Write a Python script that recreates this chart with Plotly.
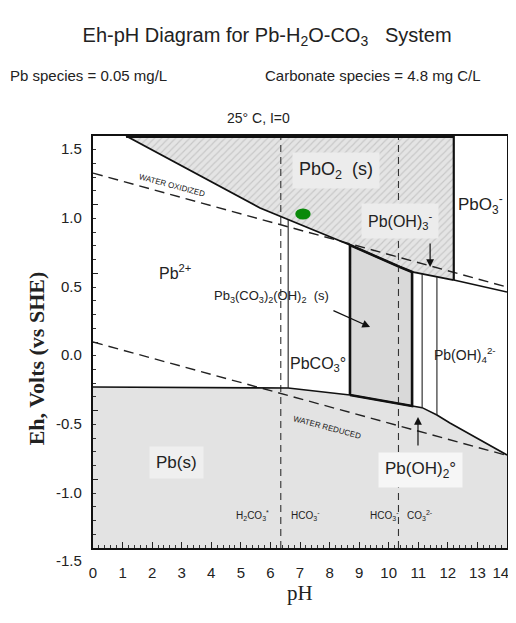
import plotly.graph_objects as go

# ---------------- data ----------------
# upper boundary of PbO2(s) / PbO3- (oxidised solids)
ox_ph = [1.12, 5.65, 6.39, 7.44, 8.69, 10.38, 10.79, 12.2]
ox_eh = [1.5, 0.976, 0.91, 0.815, 0.706, 0.546, 0.51, 0.451]
# Pb(OH)3- / PbO3- boundary continuing to pH 14
ox2_ph = [12.2, 14.0]
ox2_eh = [0.451, 0.364]
# upper boundary of Pb(s)
red_ph = [0.0, 6.6, 8.69, 10.79, 11.13, 11.63, 12.07, 14.0]
red_eh = [-0.328, -0.335, -0.386, -0.466, -0.478, -0.532, -0.59, -0.823]
# Pb3(CO3)2(OH)2(s) field
hc_ph = [8.69, 8.69, 10.38, 10.79, 10.79, 8.69]
hc_eh = [-0.386, 0.706, 0.546, 0.51, -0.466, -0.386]
# thin vertical boundaries (pH, top Eh, bottom Eh)
vb_ph = [6.6, 11.13, 11.63]
vb_top = [0.89, 0.496, 0.475]
vb_bot = [-0.335, -0.478, -0.532]
# PbO2 / PbO3- vertical boundary
pbo3_ph = [12.2, 12.2]
pbo3_eh = [1.5, 0.451]
# carbonate pKa dashed lines
pka_ph = [6.35, 10.33]
# water stability lines
wox_ph = [0.0, 14.0]
wox_eh = [1.23, 0.40]
wred_ph = [0.0, 14.0]
wred_eh = [0.0, -0.826]
# green sample point
dot_ph = [7.1]
dot_eh = [0.932]

x_ticks = list(range(0, 15))
# last label padded so it stays fully inside the page edge
x_tick_text = [str(v) for v in range(0, 14)] + ["14\u00a0\u00a0\u00a0"]
y_ticks = [1.5, 1.0, 0.5, 0.0, -0.5, -1.0, -1.5]
y_tick_text = ["1.5", "1.0", "0.5", "0.0", "-0.5", "-1.0", "-1.5"]

# species labels: (text, pH, Eh, size, background)
labels = [
    ("PbO<sub>2</sub>  (s)", 8.22, 1.252, 18, "#ececec"),
    ("Pb(OH)<sub>3</sub><sup>-</sup>", 10.38, 0.881, 16, "#ececec"),
    ("PbO<sub>3</sub><sup>-</sup>", 13.09, 0.998, 17, None),
    ("Pb<sup>2+</sup>", 2.77, 0.51, 16, None),
    ("Pb<sub>3</sub>(CO<sub>3</sub>)<sub>2</sub>(OH)<sub>2</sub>  (s)", 6.05, 0.33, 13, None),
    ("PbCO<sub>3</sub>°", 7.61, -0.167, 16, None),
    ("Pb(OH)<sub>4</sub><sup>2-</sup>", 12.58, -0.095, 14, None),
    ("Pb(s)", 2.81, -0.881, 17, "#efefef"),
    ("Pb(OH)<sub>2</sub>°", 11.06, -0.932, 17, "#f6f6f6"),
]
small_labels = [
    ("H<sub>2</sub>CO<sub>3</sub><sup>*</sup>", 5.41, -1.265),
    ("HCO<sub>3</sub><sup>-</sup>", 7.17, -1.265),
    ("HCO<sub>3</sub><sup>-</sup>", 9.87, -1.265),
    ("CO<sub>3</sub><sup>2-</sup>", 11.06, -1.265),
]
water_labels = [("WATER OXIDIZED", 2.67, 1.143), ("WATER REDUCED", 7.91, -0.626)]
# arrows: (tail pH, tail Eh, head pH, head Eh)
arrows = [
    (8.08, 0.233, 9.37, 0.109),
    (11.4, 0.728, 11.4, 0.546),
    (10.99, -0.765, 10.99, -0.546),
]

SANS = "Liberation Sans Narrow, Arial Narrow, Liberation Sans, Arial, sans-serif"
SERIF = "Liberation Serif, Times New Roman, serif"
INK = "#222222"

fig = go.Figure()

# Pb(s) field
fig.add_trace(go.Scatter(
    x=[red_ph[0]] + red_ph + [red_ph[-1]],
    y=[-1.5] + red_eh + [-1.5],
    fill="toself", fillcolor="#e3e3e3", mode="lines",
    line=dict(width=0), hoverinfo="skip", showlegend=False))

# PbO2 field (hatched)
fig.add_trace(go.Scatter(
    x=ox_ph + [12.2, ox_ph[0]],
    y=ox_eh + [1.5, 1.5],
    fill="toself", mode="lines", line=dict(width=0),
    fillpattern=dict(shape="/", bgcolor="#e4e4e4", fgcolor="#a9a9a9",
                     size=5, solidity=0.22),
    hoverinfo="skip", showlegend=False))

# Pb3(CO3)2(OH)2 field
fig.add_trace(go.Scatter(
    x=hc_ph, y=hc_eh, fill="toself", fillcolor="#d9d9d9", mode="lines",
    line=dict(color="#111111", width=2.6), hoverinfo="skip", showlegend=False))

# water lines
for xs, ys in [(wox_ph, wox_eh), (wred_ph, wred_eh)]:
    fig.add_trace(go.Scatter(x=xs, y=ys, mode="lines",
                             line=dict(color="#222222", width=1.4, dash="10px,6px"),
                             hoverinfo="skip", showlegend=False))

# pKa dashed verticals
for p in pka_ph:
    fig.add_trace(go.Scatter(x=[p, p], y=[-1.5, 1.5], mode="lines",
                             line=dict(color="#333333", width=1.1, dash="7px,5px"),
                             hoverinfo="skip", showlegend=False))

# boundaries
fig.add_trace(go.Scatter(x=ox_ph, y=ox_eh, mode="lines",
                         line=dict(color="#111111", width=1.8),
                         hoverinfo="skip", showlegend=False))
fig.add_trace(go.Scatter(x=ox2_ph, y=ox2_eh, mode="lines",
                         line=dict(color="#111111", width=1.6),
                         hoverinfo="skip", showlegend=False))
fig.add_trace(go.Scatter(x=red_ph, y=red_eh, mode="lines",
                         line=dict(color="#111111", width=1.6),
                         hoverinfo="skip", showlegend=False))
fig.add_trace(go.Scatter(x=pbo3_ph, y=pbo3_eh, mode="lines",
                         line=dict(color="#111111", width=2.2),
                         hoverinfo="skip", showlegend=False))
fig.add_trace(go.Scatter(x=[ox_ph[0], 12.2], y=[1.5, 1.5], mode="lines",
                         line=dict(color="#111111", width=4),
                         hoverinfo="skip", showlegend=False))
for p, t, b in zip(vb_ph, vb_top, vb_bot):
    fig.add_trace(go.Scatter(x=[p, p], y=[t, b], mode="lines",
                             line=dict(color="#222222", width=1.1),
                             hoverinfo="skip", showlegend=False))

# green point (elliptical)
for px, py in zip(dot_ph, dot_eh):
    fig.add_shape(type="circle", xref="x", yref="y",
                  x0=px - 0.26, x1=px + 0.26, y0=py - 0.04, y1=py + 0.04,
                  fillcolor="#0a8a0a", line=dict(width=0))

ann = []
for txt, x, y, s, bg in labels:
    a = dict(x=x, y=y, xref="x", yref="y", text=txt, showarrow=False,
             font=dict(family=SANS, size=s, color=INK))
    if bg:
        a.update(bgcolor=bg, borderpad=6)
    ann.append(a)
for txt, x, y in small_labels:
    ann.append(dict(x=x, y=y, xref="x", yref="y", text=txt, showarrow=False,
                    font=dict(family=SANS, size=10, color=INK)))
for txt, x, y in water_labels:
    ann.append(dict(x=x, y=y, xref="x", yref="y", text=txt, showarrow=False,
                    textangle=15, font=dict(family=SANS, size=8, color=INK)))
for tx, ty, hx, hy in arrows:
    ann.append(dict(x=hx, y=hy, ax=tx, ay=ty, xref="x", yref="y",
                    axref="x", ayref="y", text="", showarrow=True,
                    arrowhead=2, arrowsize=1.3, arrowwidth=1.2, arrowcolor="#111111"))

# header texts
ann.append(dict(x=-0.205, y=1.148, xref="paper", yref="paper", xanchor="left",
                yanchor="middle", text="Pb species = 0.05 mg/L", showarrow=False,
                font=dict(family=SANS, size=15, color=INK)))
ann.append(dict(x=0.411, y=1.148, xref="paper", yref="paper", xanchor="left",
                yanchor="middle", text="Carbonate species = 4.8 mg C/L", showarrow=False,
                font=dict(family=SANS, size=15, color=INK)))
ann.append(dict(x=0.40, y=1.044, xref="paper", yref="paper", xanchor="center",
                yanchor="middle", text="25° C, I=0", showarrow=False,
                font=dict(family=SANS, size=14, color=INK)))
# axis titles
ann.append(dict(x=-0.172, y=0.461, xref="paper", yref="paper", textangle=-90,
                text="<b>Eh, Volts (vs SHE)</b>", showarrow=False,
                font=dict(family=SERIF, size=22, color=INK)))
ann.append(dict(x=0.5, y=-0.143, xref="paper", yref="paper",
                text="pH", showarrow=False,
                font=dict(family=SERIF, size=21, color=INK)))

# the page body adds an 8 px margin, so the figure is offset by 8 px
fig.update_layout(
    width=508, height=607,
    margin=dict(l=85, r=9, t=128, b=67, autoexpand=False),
    paper_bgcolor="white", plot_bgcolor="white",
    title=dict(text="Eh-pH Diagram for Pb-H<sub>2</sub>O-CO<sub>3</sub>\u00a0\u00a0\u00a0System",
               x=0.51, y=1 - 27 / 607, xanchor="center", yanchor="middle",
               xref="container", yref="container",
               font=dict(family=SANS, size=20, color=INK)),
    annotations=ann,
    showlegend=False,
)
fig.update_xaxes(range=[0, 14], tickvals=x_ticks, ticktext=x_tick_text,
                 ticks="inside", ticklen=6,
                 tickwidth=1.2, tickcolor="#222", showgrid=False, zeroline=False,
                 showline=True, linecolor="#111", linewidth=2.2, mirror=True,
                 ticklabelstandoff=10, automargin=False, ticklabeloverflow="allow",
                 tickfont=dict(family=SANS, size=15, color=INK),
                 minor=dict(dtick=0.2, ticks="inside", ticklen=3, tickwidth=1,
                            tickcolor="#333", showgrid=False))
fig.update_yaxes(range=[-1.5, 1.5], tickvals=y_ticks, ticktext=y_tick_text,
                 ticks="inside", ticklen=5, tickwidth=1.2, tickcolor="#222",
                 showgrid=False, zeroline=False, showline=True, linecolor="#111",
                 linewidth=2.2, mirror=True, ticklabelshift=13, ticklabelstandoff=6,
                 automargin=False, ticklabeloverflow="allow",
                 tickfont=dict(family=SANS, size=15, color=INK),
                 minor=dict(dtick=0.1, ticks="inside", ticklen=3, tickwidth=1,
                            tickcolor="#333", showgrid=False))

fig.write_html("out.html")
